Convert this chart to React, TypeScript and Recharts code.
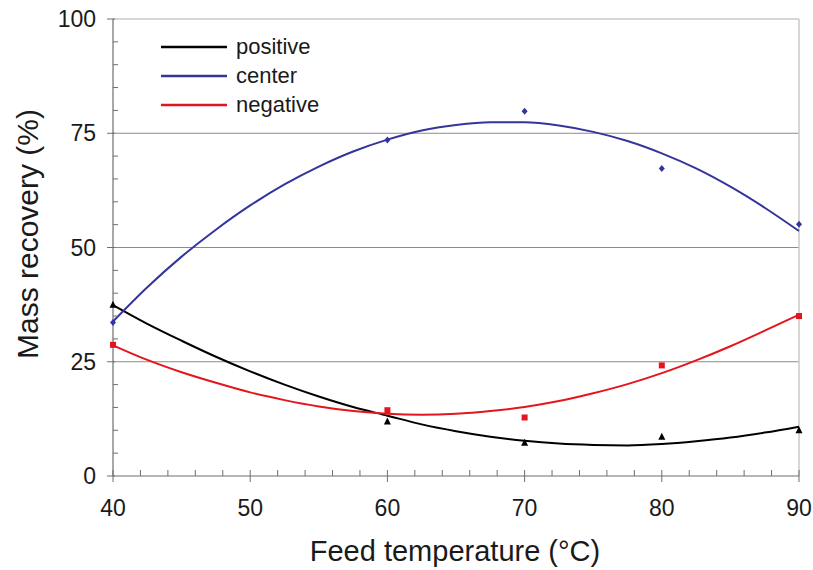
import React from 'react';
import { ComposedChart, Line, Scatter, XAxis, YAxis, ReferenceLine, Legend } from 'recharts';

// Measured points
const temperatures = [40, 60, 70, 80, 90];
const positiveValues = [37.5, 11.9, 7.3, 8.6, 10.0];
const centerValues = [33.6, 73.5, 79.8, 67.3, 55.1];
const negativeValues = [28.7, 14.4, 12.8, 24.2, 35.0];

// Trend curves
const trendX = [40, 42.5, 45, 47.5, 50, 52.5, 55, 57.5, 60, 62.5, 65, 67.5, 70, 72.5, 75, 77.5, 80, 82.5, 85, 87.5, 90];
const positiveTrend = [37.4, 33.3, 29.6, 26.1, 22.9, 20.0, 17.4, 15.1, 13.2, 11.3, 9.8, 8.6, 7.7, 7.1, 6.8, 6.7, 7.0, 7.6, 8.4, 9.5, 10.8];
const centerTrend = [33.8, 41.3, 48.0, 53.9, 59.2, 63.8, 67.7, 71.0, 73.6, 75.6, 76.8, 77.4, 77.4, 76.7, 75.3, 73.3, 70.6, 67.3, 63.3, 58.7, 53.6];
const negativeTrend = [28.6, 25.4, 22.7, 20.4, 18.3, 16.6, 15.2, 14.2, 13.6, 13.4, 13.6, 14.2, 15.1, 16.4, 18.1, 20.1, 22.5, 25.3, 28.4, 31.8, 35.3];

const xTicks = [40, 42, 44, 46, 48, 50, 52, 54, 56, 58, 60, 62, 64, 66, 68, 70, 72, 74, 76, 78, 80, 82, 84, 86, 88, 90];
const yTicks = [0, 5, 10, 15, 20, 25, 30, 35, 40, 45, 50, 55, 60, 65, 70, 75, 80, 85, 90, 95, 100];
const gridValues = [25, 50, 75];

const seriesNames = ['positive', 'center', 'negative'];
const seriesColors = ['#000000', '#34359a', '#e3161d'];

const toPoints = (xs: number[], ys: number[]) => xs.map((x, i) => ({ x, y: ys[i] }));

const AXIS = '#6e6e6e';
const TEXT = '#1a1a1a';
const FONT = "'Liberation Sans', Arial, sans-serif";

const XTick = (props: any) => {
  const { x, y, payload } = props;
  const v = payload.value;
  const major = v % 10 === 0;
  return (
    <g>
      <line x1={x} x2={x} y1={major ? y + 6 : y} y2={y - 6} stroke={AXIS} strokeWidth={1} />
      {major && (
        <text x={x} y={y + 40} textAnchor="middle" fontSize={23} fill={TEXT} fontFamily={FONT}>
          {v}
        </text>
      )}
    </g>
  );
};

const YTick = (props: any) => {
  const { x, y, payload } = props;
  const v = payload.value;
  const major = v % 25 === 0;
  return (
    <g>
      <line x1={major ? x - 6 : x} x2={major ? x + 2 : x + 5} y1={y} y2={y} stroke={AXIS} strokeWidth={1} />
      {major && (
        <text x={x - 17} y={y + 8} textAnchor="end" fontSize={23} fill={TEXT} fontFamily={FONT}>
          {v}
        </text>
      )}
    </g>
  );
};

const Triangle = (props: any) => {
  const { cx, cy, fill } = props;
  if (cx == null || cy == null) return null;
  return <polygon points={`${cx},${cy - 4} ${cx - 3.5},${cy + 3} ${cx + 3.5},${cy + 3}`} fill={fill} />;
};
const Diamond = (props: any) => {
  const { cx, cy, fill } = props;
  if (cx == null || cy == null) return null;
  return <polygon points={`${cx},${cy - 3.5} ${cx + 3},${cy} ${cx},${cy + 3.5} ${cx - 3},${cy}`} fill={fill} />;
};
const Square = (props: any) => {
  const { cx, cy, fill } = props;
  if (cx == null || cy == null) return null;
  return <rect x={cx - 3} y={cy - 3} width={6} height={6} fill={fill} />;
};

const renderLegend = () => (
  <svg width={220} height={100} style={{ display: 'block' }}>
    {seriesNames.map((name, i) => (
      <g key={name}>
        <line x1={11} x2={77} y1={17 + i * 29} y2={17 + i * 29} stroke={seriesColors[i]} strokeWidth={2.5} />
        <text x={86} y={24 + i * 29} fontSize={22} fill={TEXT} fontFamily={FONT}>
          {name}
        </text>
      </g>
    ))}
  </svg>
);

export default function App() {
  const shapes = [Triangle, Diamond, Square];
  const pointSets = [positiveValues, centerValues, negativeValues];
  const trendSets = [positiveTrend, centerTrend, negativeTrend];
  return (
    <div style={{ position: 'absolute', left: 0, top: 0, background: '#fff' }}>
      <ComposedChart
        width={813}
        height={570}
        margin={{ top: 19, right: 14, bottom: 0, left: 0 }}
        style={{ fontFamily: FONT }}
      >
        <XAxis
          type="number"
          dataKey="x"
          domain={[40, 90]}
          ticks={xTicks}
          interval={0}
          height={94}
          tickSize={0}
          tickMargin={0}
          tickLine={false}
          axisLine={{ stroke: AXIS, strokeWidth: 1.2 }}
          tick={<XTick />}
          label={(p: any) => (
            <text x={455} y={561} textAnchor="middle" fontSize={29} fill={TEXT} fontFamily={FONT}>
              Feed temperature (°C)
            </text>
          )}
        />
        <YAxis
          type="number"
          dataKey="y"
          domain={[0, 100]}
          ticks={yTicks}
          interval={0}
          width={113}
          tickSize={0}
          tickMargin={0}
          tickLine={false}
          axisLine={{ stroke: AXIS, strokeWidth: 1.2 }}
          tick={<YTick />}
          label={(p: any) => (
            <text
              transform="translate(38,234) rotate(-90)"
              textAnchor="middle"
              fontSize={30}
              fill={TEXT}
              fontFamily={FONT}
            >
              Mass recovery (%)
            </text>
          )}
        />
        {gridValues.map((g) => (
          <ReferenceLine key={g} y={g} stroke="#8a8a8a" strokeWidth={1.2} />
        ))}
        <ReferenceLine y={100} stroke="#c8c8c8" strokeWidth={1.5} />
        <ReferenceLine x={90} stroke="#c8c8c8" strokeWidth={1.5} />
        {trendSets.map((t, i) => (
          <Line
            key={'trend-' + seriesNames[i]}
            data={toPoints(trendX, t)}
            dataKey="y"
            type="monotone"
            stroke={seriesColors[i]}
            strokeWidth={2}
            dot={false}
            activeDot={false}
            isAnimationActive={false}
            legendType="none"
          />
        ))}
        {pointSets.map((vals, i) => (
          <Scatter
            key={'pts-' + seriesNames[i]}
            data={toPoints(temperatures, vals)}
            dataKey="y"
            fill={seriesColors[i]}
            shape={shapes[i]}
            isAnimationActive={false}
            legendType="none"
          />
        ))}
        <Legend
          layout="vertical"
          align="center"
          verticalAlign="middle"
          content={renderLegend}
          wrapperStyle={{ left: 150, top: 30, width: 220, height: 100 }}
        />
      </ComposedChart>
    </div>
  );
}
